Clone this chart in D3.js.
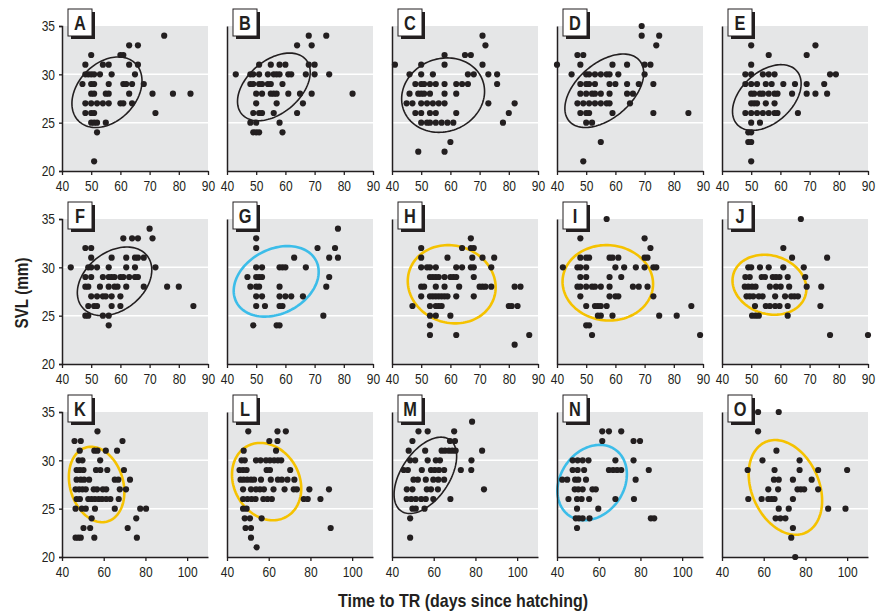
<!DOCTYPE html>
<html>
<head>
<meta charset="utf-8">
<script src="https://cdn.jsdelivr.net/npm/d3@7"></script>
<style>
  body { margin: 0; background: #fff; }
  svg text { font-family: "Liberation Sans", Arial, sans-serif; fill: #231f20; }
</style>
</head>
<body>
<svg id="chart" width="878" height="612"></svg>
<script>
// panels, in reading order
const panelNames = ["A","B","C","D","E","F","G","H","I","J","K","L","M","N","O"];
// colour group of each ellipse
const ellipseKind = ["black","black","black","black","black",
                     "black","blue","yellow","yellow","yellow",
                     "yellow","yellow","black","blue","yellow"];
const xTicksShort = [40,50,60,70,80,90];
const xTicksLong = [40,60,80,100];
const yTicks = [20,25,30,35];
const gridValues = [25,30];

// points [days to TR, SVL mm]
const ptsA = [[75,34],[63,33],[66,33],[50,32],[60,32],[61,32],[48,31],[54,31],[56,31],[63,31],[66,31],
  [48,30],[49,30],[50,30],[51,30],[53,30],[57,30],[65,30],
  [47,29],[50,29],[51,29],[56,29],[61,29],[62,29],[64,29],[68,29],
  [50,28],[51,28],[55,28],[56,28],[63,28],[71,28],[78,28],[84,28],
  [48,27],[50,27],[52,27],[54,27],[56,27],[60,27],[61,27],[64,27],
  [48,26],[50,26],[51,26],[72,26],[50,25],[51,25],[52,25],[55,25],[52,24],[51,21]];
const ptsB = [[68,34],[74,34],[64,33],[69,33],[51,31],[55,31],[58,31],[60,31],[68,31],[70,31],
  [43,30],[48,30],[49,30],[51,30],[54,30],[56,30],[57,30],[58,30],[61,30],[62,30],[67,30],[70,30],[75,30],
  [48,29],[49,29],[51,29],[52,29],[54,29],[55,29],[59,29],
  [50,28],[52,28],[55,28],[56,28],[57,28],[61,28],[65,28],[69,28],[83,28],
  [50,27],[57,27],[66,27],[49,26],[51,26],[52,26],[56,26],[64,26],
  [48,25],[50,25],[58,25],[49,24],[50,24],[51,24],[59,24]];
const ptsC = [[71,34],[72,33],[58,32],[65,32],[67,32],[41,31],[50,31],[58,31],[71,31],
  [46,30],[50,30],[54,30],[66,30],[68,30],[73,30],[76,30],
  [48,29],[50,29],[51,29],[53,29],[55,29],[58,29],[62,29],[64,29],[66,29],[76,29],
  [46,28],[49,28],[50,28],[51,28],[53,28],[58,28],[62,28],
  [45,27],[47,27],[50,27],[52,27],[54,27],[56,27],[58,27],[73,27],[82,27],
  [48,26],[50,26],[53,26],[55,26],[62,26],[80,26],
  [50,25],[52,25],[53,25],[55,25],[57,25],[59,25],[61,25],[78,25],[60,23],[49,22],[58,22]];
const ptsD = [[69,35],[69,34],[75,34],[74,33],[47,32],[49,32],
  [40,31],[48,31],[59,31],[64,31],[70,31],[72,31],
  [45,30],[50,30],[51,30],[53,30],[55,30],[57,30],[58,30],[61,30],[70,30],
  [48,29],[50,29],[51,29],[53,29],[58,29],[60,29],[64,29],[68,29],[73,29],
  [48,28],[50,28],[52,28],[53,28],[55,28],[58,28],[64,28],[66,28],
  [47,27],[49,27],[51,27],[53,27],[55,27],[57,27],[58,27],[65,27],
  [48,26],[50,26],[51,26],[59,26],[73,26],[85,26],[50,25],[52,25],[55,23],[49,21]];
const ptsE = [[50,33],[72,33],[56,32],[69,32],[50,31],
  [48,30],[50,30],[54,30],[56,30],[58,30],[77,30],[79,30],
  [48,29],[50,29],[52,29],[55,29],[57,29],[61,29],[65,29],[69,29],[75,29],
  [50,28],[51,28],[53,28],[54,28],[56,28],[58,28],[59,28],[64,28],[69,28],[72,28],[76,28],
  [50,27],[51,27],[52,27],[55,27],[58,27],
  [48,26],[50,26],[52,26],[54,26],[56,26],[58,26],[59,26],[66,26],
  [50,25],[53,25],[49,24],[50,24],[49,23],[50,23],[50,21]];
const ptsF = [[70,34],[61,33],[64,33],[66,33],[71,33],[48,32],[50,32],
  [50,31],[57,31],[62,31],[65,31],[66,31],[68,31],
  [43,30],[49,30],[50,30],[52,30],[56,30],[62,30],[65,30],[72,30],
  [48,29],[50,29],[54,29],[56,29],[57,29],[58,29],[60,29],[61,29],[63,29],[65,29],[66,29],
  [48,28],[49,28],[53,28],[56,28],[58,28],[59,28],[62,28],[68,28],[76,28],[80,28],
  [50,27],[52,27],[54,27],[55,27],[57,27],[60,27],
  [49,26],[51,26],[52,26],[57,26],[60,26],[85,26],
  [48,25],[49,25],[54,25],[56,25],[56,24]];
const ptsG = [[78,34],[50,33],[50,32],[71,32],[77,32],[63,31],[75,31],[78,31],
  [50,30],[52,30],[58,30],[59,30],[60,30],[67,30],
  [47,29],[50,29],[51,29],[52,29],[75,29],
  [48,28],[50,28],[51,28],[58,28],[74,28],
  [50,27],[52,27],[58,27],[60,27],[62,27],[66,27],
  [50,26],[53,26],[58,26],[59,26],[73,25],[49,24],[57,24],[58,24]];
const ptsH = [[67,33],[50,32],[64,32],[67,32],[68,32],
  [50,31],[59,31],[67.5,31],[71,31],[75,31],
  [50,30],[52,30],[53,30],[55,30],[62,30],[64,30],[67,30],[68,30],[74,30],
  [53,29],[54,29],[55,29],[56,29],[58,29],[60,29],[61,29],[62,29],[68,29],
  [50,28],[51,28],[55,28],[58,28],[63,28],[70,28],[71,28],[72,28],[74,28],[82,28],[84,28],
  [50,27],[53,27],[54,27],[55,27],[56,27],[57,27],[58,27],[59,27],[62,27],[68,27],
  [47,26],[53,26],[55,26],[56,26],[57,26],[80,26],[81,26],[83,26],
  [53,25],[55,25],[60,25],[53,24],[53,23],[62,23],[87,23],[82,22]];
const ptsI = [[57,35],[48,33],[70,33],[72,32],
  [48,31],[50,31],[51,31],[58,31],[59,31],[61,31],[70,31],[71,31],
  [42,30],[47,30],[48,30],[50,30],[60,30],[63,30],[67,30],[70,30],[73,30],[74,30],
  [48,29],[50,29],[58,29],[62,29],
  [47,28],[48,28],[50,28],[52,28],[53,28],[55,28],[58,28],[66,28],[68,28],[71,28],
  [48,27],[58,27],[60,27],[61,27],[73,27],
  [50,26],[53,26],[54,26],[55,26],[57,26],[86,26],
  [54,25],[55,25],[59,25],[75,25],[81,25],[50,24],[51,24],[52,23],[89,23]];
const ptsJ = [[67,35],[61,32],[64,31],[76,31],
  [49,30],[50,30],[53,30],[56,30],[61,30],[68,30],
  [48,29],[49.5,29],[53.6,29],[54.7,29],[57.4,29],[58.5,29],[59.7,29],[62.5,29],[68.5,29],
  [47.8,28],[49,28],[50.3,28],[51.5,28],[56.4,28],[58.5,28],[60.1,28],[63,28],[69,28],[74,28],
  [48.4,27],[49.5,27],[50.7,27],[52.6,27],[53.9,27],[58.2,27],[61.6,27],[63.7,27],[64.8,27],[66,27],
  [51.3,26],[55,26],[56.4,26],[58.2,26],[59.7,26],[62.5,26],[73.7,26],
  [50.3,25],[51.5,25],[52.6,25],[62.5,25],[77,23],[90,23]];
const ptsK = [[57,33],[46,32],[49,32],[69,32],
  [48.5,31],[55.5,31],[57,31],[61,31],[66.4,31],
  [48,30],[49.8,30],[58.3,30],
  [47,29],[48.6,29],[50.3,29],[56.3,29],[58.4,29],[61.7,29],[69.7,29],
  [47,28],[49,28],[50.6,28],[53,28],[65.3,28],[67,28],[72.6,28],
  [46.5,27],[48.2,27],[49.8,27],[51.4,27],[55.2,27],[56.8,27],[59.6,27],[61.2,27],[67.7,27],[70.7,27],
  [47,26],[48.6,26],[52.6,26],[54.2,26],[55.8,26],[57.6,26],[59.2,26],[61.2,26],[63.2,26],[67.2,26],
  [46.5,25],[49.5,25],[51.4,25],[55.8,25],[65.3,25],[77.5,25],[80.3,25],
  [54.2,24],[75.6,24],[50.3,23],[53.5,23],[71.5,23],
  [46.5,22],[47.8,22],[49,22],[55.5,22],[75.9,22]];
const ptsL = [[50.2,33],[64.2,33],[68.2,33],[60.3,32],[64.2,32],[48,31],[63.5,31],
  [47,30],[48.5,30],[53.9,30],[56.1,30],[58.7,30],[60.6,30],[62.6,30],[64.4,30],[66,30],
  [46,29],[47.7,29],[49.4,29],[59,29],[60.6,29],[70.3,29],
  [46.5,28],[48,28],[49.7,28],[51.5,28],[53,28],[56.3,28],[61,28],[64.4,28],[66.3,28],[69,28],[72.3,28],
  [47.7,27],[51.5,27],[53.9,27],[55.8,27],[57.7,27],[62.3,27],[67.6,27],[72,27],[73.5,27],[79.5,27],[88.9,27],
  [47.7,26],[49.8,26],[51.8,26],[53.7,26],[57.4,26],[59.4,26],[61.5,26],[76.8,26],[78.7,26],[84.8,26],
  [47.7,25],[49.4,25],[48.5,24],[51,24],[56.6,24],
  [48.9,23],[51.5,23],[89.7,23],[51.5,22],[54.2,21]];
const ptsM = [[78.4,34],[52.7,33],[57.1,33],[69.8,33],[49.8,32],[67.8,32],[70.2,32],
  [48,31],[55.9,31],[63.8,31],[65.4,31],[67.3,31],[68.9,31],[70.5,31],[83.2,31],
  [48.7,30],[51.1,30],[57.1,30],[61,30],[63,30],[78.1,30],
  [45.6,29],[47.6,29],[54.3,29],[58.7,29],[60.5,29],[62.5,29],[65,29],[73,29],[78,29],
  [50.3,28],[52.4,28],[56.2,28],[59.8,28],[62.2,28],[65,28],
  [47.1,27],[49.8,27],[56.7,27],[58.7,27],[62,27],[84.1,27],
  [47,26],[49.2,26],[51.4,26],[54,26],[56.2,26],[59.8,26],[68,26],
  [49.8,25],[51.4,25],[55.6,25],[48.7,24],[48.7,22]];
const ptsN = [[61.7,33],[64.9,33],[70.8,33],[61.7,32],[76.7,32],[79.8,32],
  [47.5,30],[49.9,30],[52.3,30],[55.1,30],[68,30],[76.7,30],
  [47.5,29],[49.9,29],[53,29],[64.9,29],[66.9,29],[68.8,29],[70.8,29],[84,29],
  [42.5,28],[44.9,28],[48.7,28],[50.2,28],[53.9,28],[77.7,28],
  [48.5,27],[50.2,27],[52.3,27],[57,27],[58.6,27],
  [45.5,26],[49.6,26],[51.8,26],[55.4,26],[68,26],[76.9,26],
  [49.6,25],[59.8,25],[49,24],[50.5,24],[52.3,24],[55.6,24],[85,24],[86.6,24],[49.6,23]];
const ptsO = [[57.3,35],[67.2,35],[57.3,33],[66.1,31],[59.4,30],[77.2,30],
  [52.3,29],[65.2,29],[77.2,29],[86.1,29],[100,29],
  [64.9,28],[67.2,28],[74,28],[83,28],
  [62.2,27],[66.9,27],[76.2,27],[77.8,27],[79.4,27],[86.1,27],
  [52.6,26],[59,26],[62.2,26],[63.8,26],[65.2,26],[74,26],
  [67.2,25],[72,25],[90.9,25],[99.2,25],[65.7,24],[68,24],[70.4,24],
  [74,23],[73.2,22],[75.1,20]];
const panelPoints = [ptsA,ptsB,ptsC,ptsD,ptsE,ptsF,ptsG,ptsH,ptsI,ptsJ,ptsK,ptsL,ptsM,ptsN,ptsO];

// ellipse per panel: [centre x, centre y, half width x, half height y, correlation]
const ellipseParams = [
  [55.4,28.15,12,3.65,0.32],[56.05,28.7,12.45,3.5,0.43],[57.5,27.85,14.2,3.85,0.1],
  [56.2,28.3,13.5,3.8,0.48],[55.35,27.6,11.75,3.4,0.42],
  [58,28.55,12.75,3.55,0.33],[56.85,28.55,14.55,3.65,0.27],[60.45,28.25,15.05,4.05,-0.08],
  [57.4,28.4,15.5,3.9,-0.03],[56.25,28.2,12.65,3.1,-0.14],
  [56.6,27.5,13.3,3.9,-0.2],[59,27.8,16.6,4,-0.18],[56,28.45,15,3.95,0.5],
  [56.85,27.7,16.65,3.9,0.22],[70.4,27.2,17.6,4.9,-0.28]
];

const colours = {black: "#231f20", blue: "#3cbde9", yellow: "#f5c200"};
const ink = "#231f20";
const squeeze = 0.8;   // fake a condensed face, no narrow font here

const svg = d3.select("#chart");
const pw = 146, ph = 145;          // panel size
const left0 = 62, top0 = 26;       // first panel
const stepX = 165, stepY = 193;    // panel spacing

panelNames.forEach((name, i) => {
  let row = Math.floor(i / 5), col = i % 5;
  let g = svg.append("g")
    .attr("transform", `translate(${left0 + col * stepX},${top0 + row * stepY})`);

  let x = d3.scaleLinear().domain(row < 2 ? [40, 90] : [40, 110]).range([0, pw]);
  let y = d3.scaleLinear().domain([20, 35]).range([ph, 0]);

  // grey background + white grid lines
  g.append("rect").attr("width", pw).attr("height", ph).attr("fill", "#e5e6e7");
  g.selectAll(".grid").data(gridValues).join("line")
    .attr("x1", 0).attr("x2", pw)
    .attr("y1", d => y(d)).attr("y2", d => y(d))
    .attr("stroke", "#fff").attr("stroke-width", 1.5);

  // ellipse
  let e = ellipseParams[i];
  let ts = d3.range(0, 2 * Math.PI, Math.PI / 60);
  let ring = ts.map(t => [
    e[0] + e[2] * Math.cos(t),
    e[1] + e[3] * (e[4] * Math.cos(t) + Math.sqrt(1 - e[4] * e[4]) * Math.sin(t))
  ]);
  let line = d3.line().x(d => x(d[0])).y(d => y(d[1])).curve(d3.curveLinearClosed);
  let kind = ellipseKind[i];
  g.append("path")
    .attr("d", line(ring))
    .attr("fill", "none")
    .attr("stroke", colours[kind])
    .attr("stroke-width", kind == "black" ? 1.6 : 2.6);

  // dots
  g.selectAll(".dot").data(panelPoints[i]).join("circle")
    .attr("cx", d => x(d[0])).attr("cy", d => y(d[1]))
    .attr("r", 3.1).attr("fill", ink);

  // axes
  let xAxis = d3.axisBottom(x)
    .tickValues(row < 2 ? xTicksShort : xTicksLong)
    .tickSize(4).tickSizeOuter(0).tickPadding(5);
  let gx = g.append("g").attr("transform", `translate(0,${ph})`).call(xAxis);

  let yAxis = d3.axisLeft(y).tickValues(yTicks).tickSizeOuter(0)
    .tickSize(col == 0 ? 3 : 0).tickPadding(4)
    .tickFormat(col == 0 ? d3.format("d") : () => "");
  let gy = g.append("g").call(yAxis);

  [gx, gy].forEach(a => {
    a.attr("font-family", null).attr("font-size", null);
    a.select(".domain").attr("stroke", ink).attr("stroke-width", 1.5);
    a.selectAll(".tick line").attr("stroke", ink).attr("stroke-width", 1.3);
    a.selectAll(".tick text").style("font-size", "15px").attr("fill", "#3a3a3a")
      .attr("transform", `scale(${squeeze},1)`);
  });
  // keep the y labels' right edge where it was before squeezing
  gy.selectAll(".tick text").attr("x", -7 / squeeze);

  // letter box with drop shadow
  g.append("rect").attr("x", 9).attr("y", -14).attr("width", 24).attr("height", 27).attr("fill", ink);
  g.append("rect").attr("x", 6).attr("y", -17).attr("width", 24).attr("height", 27)
    .attr("fill", "#fff").attr("stroke", ink).attr("stroke-width", 1);
  g.append("text")
    .attr("transform", `translate(18,-3.5) scale(0.78,1)`)
    .attr("text-anchor", "middle").attr("dominant-baseline", "central")
    .attr("font-weight", "bold").style("font-size", "21px")
    .text(name);
});

// axis titles
svg.append("text")
  .attr("transform", "translate(28,293) rotate(-90)")
  .attr("text-anchor", "middle")
  .attr("font-weight", "bold").style("font-size", "18px")
  .attr("textLength", 71).attr("lengthAdjust", "spacingAndGlyphs")
  .text("SVL (mm)");

svg.append("text")
  .attr("x", 463).attr("y", 607)
  .attr("text-anchor", "middle")
  .attr("font-weight", "bold").style("font-size", "19px")
  .attr("textLength", 250).attr("lengthAdjust", "spacingAndGlyphs")
  .text("Time to TR (days since hatching)");
</script>
</body>
</html>
